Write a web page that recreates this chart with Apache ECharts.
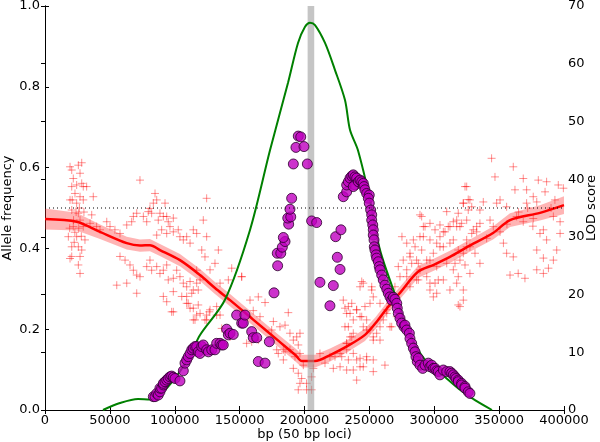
<!DOCTYPE html>
<html><head><meta charset="utf-8">
<script src="https://cdn.jsdelivr.net/npm/echarts@6/dist/echarts.min.js"></script>
<style>html,body{margin:0;padding:0;background:#fff}#c{width:600px;height:442px}</style>
</head><body><div id="c"></div>
<script>
// ---- data ----
const xTicks = [0, 50000, 100000, 150000, 200000, 250000, 300000, 350000, 400000];
const leftTicks = [0.0, 0.2, 0.4, 0.6, 0.8, 1.0];
const rightTicks = [0, 10, 20, 30, 40, 50, 60, 70];

// red + : SNP allele frequency
const snpPoints = [
[19300,0.602],[20600,0.594],[25700,0.606],[28300,0.612],[27000,0.586],[21800,0.573],[28300,0.561],[24400,0.557],[29500,0.553],[20600,0.553],[23100,0.536],[27000,0.528],[19300,0.520],[24400,0.512],[29500,0.520],[32100,0.553],[37200,0.528],[20600,0.495],[25700,0.487],[27000,0.470],[21800,0.454],[29500,0.454],[18000,0.429],[24400,0.429],[30800,0.421],[20600,0.404],[25700,0.404],[28300,0.396],[20600,0.380],[27000,0.380],[19300,0.375],[25700,0.359],[27000,0.338],
[22000,0.47],[23000,0.44],[26000,0.45],[28000,0.43],[21000,0.52],[24000,0.49],[19000,0.45],[30000,0.49],[22500,0.415],[26500,0.50],
[34700,0.462],[36000,0.483],[39800,0.454],[42400,0.446],[47600,0.466],[50100,0.454],[53900,0.446],[57800,0.437],[63000,0.458],[66800,0.466],[68100,0.479],[70700,0.487],[73200,0.569],[75800,0.479],[78400,0.466],[79600,0.491],[80900,0.499],[82200,0.487],[83500,0.512],[84800,0.536],[86100,0.520],[87300,0.470],[88600,0.487],[91200,0.479],[92500,0.512],[93800,0.479],[95000,0.466],[98900,0.475],[96300,0.454],[86100,0.433],[89900,0.446],[93800,0.437],[98900,0.441],[102700,0.446],[104000,0.429],[106600,0.421],[109200,0.429],[111800,0.413],[114300,0.446],[116900,0.437],[57800,0.380],[61700,0.371],[65500,0.359],[68100,0.346],[70700,0.334],[73200,0.330],[78400,0.355],[80900,0.371],[82200,0.346],[86100,0.355],[88600,0.338],[91200,0.346],[93800,0.359],[95000,0.322],[98900,0.326],[101500,0.346],[104000,0.330],[106600,0.314],[109200,0.305],[111800,0.318],[114300,0.297],[116900,0.314],[55300,0.309],[63000,0.314],[70700,0.289],[91200,0.281],[98900,0.293],[105400,0.281],[109200,0.281],[113100,0.289],[118100,0.297],[119500,0.322],[116900,0.346],
[98900,0.243],[109200,0.264],[111800,0.252],[114300,0.223],[116900,0.235],[93800,0.268],
[97600,0.243],[110400,0.264],[114300,0.252],[118100,0.260],[119500,0.239],[115600,0.223],[124600,0.235],[127200,0.248],[132300,0.256],[134900,0.235],[124600,0.223],[142600,0.181],[159300,0.169],
[244100,0.318],[251800,0.305],[124600,0.524],[122000,0.470],[124600,0.429],[133600,0.396],[120800,0.396],[131000,0.363],[123300,0.379],[127200,0.347],[143900,0.351],[151600,0.330],[141300,0.322],[134900,0.314],[164400,0.280],
[126600,0.243],[132300,0.235],[123300,0.223],[136200,0.202],[155400,0.165],[164400,0.173],[178600,0.149],[185000,0.144],[231200,0.252],[235100,0.239],[237600,0.223],[240200,0.248],[242800,0.231],[245300,0.206],[247900,0.223],[250500,0.198],[253000,0.181],[255600,0.190],[258200,0.206],[236400,0.181],[232500,0.165],[237600,0.140],[242800,0.128],[247900,0.124],[253000,0.124],[222200,0.103],[227400,0.107],[232500,0.099],[242800,0.107],[262000,0.111],[253000,0.095],[263400,0.248],[271100,0.231],[267200,0.206],
[151600,0.330],[158000,0.272],[169600,0.266],[160500,0.246],[165700,0.231],[187500,0.241],[176000,0.219],[181100,0.206],[185000,0.210],[174700,0.198],[188800,0.190],[194000,0.181],[196500,0.190],[191400,0.173],[195200,0.161],[188800,0.149],[183700,0.149],[179800,0.140],[192700,0.132],[183700,0.124],[196500,0.140],[191400,0.103],[195200,0.091],[199100,0.111],[197800,0.078],[201600,0.066],[196500,0.066],[195200,0.050],[201600,0.050],[205500,0.050],[205500,0.082],[206800,0.103],[211900,0.140],[215800,0.116],[219600,0.132],[223500,0.132],[227400,0.140],[232500,0.149],[233800,0.206],[235100,0.181],[233800,0.256],
[229900,0.272],[232500,0.239],[236400,0.264],[240200,0.248],[244100,0.231],[246600,0.256],[250500,0.264],[253000,0.280],[242800,0.305],[245300,0.314],[251800,0.297],[231200,0.206],[237600,0.190],[247900,0.198],[253000,0.173],[258200,0.173],[228700,0.132],[233800,0.124],[240200,0.124],[245300,0.107],[237600,0.099],[240200,0.074],[247900,0.132],[232500,0.165],[260700,0.223],[263400,0.239],[265900,0.264],[258200,0.264],[265900,0.206],[269700,0.305],[273600,0.330],[272300,0.355],[276100,0.371],[278800,0.347],[281300,0.388],[282600,0.363],[285200,0.404],[286400,0.371],[289000,0.347],[290300,0.396],[291600,0.429],[292900,0.454],[290300,0.479],[275100,0.429],[278800,0.413],[281300,0.305],[287700,0.322],[294200,0.330],[296700,0.297],[299300,0.280],[300600,0.314],[303100,0.322],[296700,0.371],[299300,0.388],[301900,0.413],[304400,0.429],[307000,0.404],[308300,0.441],[312100,0.454],[314700,0.421],[316000,0.363],[318500,0.330],[319800,0.371],[322400,0.388],[322400,0.272],[318500,0.260],[325000,0.421],[327500,0.404],[330100,0.446],[332700,0.454],[317300,0.470],[319800,0.454],[325000,0.470],[326200,0.495],[322400,0.512],[325000,0.553],[327500,0.520],[309600,0.491],[289000,0.483],
[344200,0.623],[346800,0.577],[360900,0.602],[368600,0.573],[371200,0.545],[323700,0.553],[326200,0.521],[337800,0.515],[350700,0.520],[362200,0.545],[380200,0.569],[386600,0.565],[395600,0.557],[399500,0.549],[385400,0.540],[376300,0.528],[379000,0.515],[371200,0.512],[355800,0.503],[348100,0.512],[335200,0.495],[328900,0.503],[322400,0.512],[318500,0.487],[291600,0.454],[296700,0.462],[300600,0.446],[304400,0.458],[307000,0.441],[310800,0.454],[314700,0.466],[317300,0.454],[321100,0.462],[328900,0.437],[332700,0.441],[283900,0.421],[289000,0.429],[296700,0.421],[304400,0.404],[312100,0.413],[318500,0.396],[325000,0.404],[331400,0.388],[335200,0.363],[281300,0.379],[287700,0.363],[294200,0.371],[301900,0.355],[309600,0.363],[314700,0.347],[323700,0.359],[327500,0.338],[278800,0.330],[286400,0.322],[296700,0.314],[307000,0.322],[317300,0.314],[301900,0.289],[312100,0.297],[322400,0.297],[353300,0.413],[355800,0.388],[360900,0.379],[364700,0.338],[369900,0.326],[358400,0.334],[379000,0.396],[381500,0.437],[384100,0.446],[386600,0.421],[384100,0.376],[379000,0.347],[384100,0.338],[388000,0.351],[391800,0.371],[394400,0.396],[397000,0.437],[391800,0.479],[397000,0.466],[376300,0.474],[368600,0.466],[363500,0.479],[345500,0.454],[340400,0.425],[350700,0.441],[335200,0.462],[319800,0.256],
[365000,0.49],[372000,0.50],[390000,0.50],[356000,0.46],[343000,0.47],[376000,0.455],[393000,0.52]
];

// red smoothed trend and its band (left axis)
const trendX = [0,24400,42400,63000,73200,80900,88600,104000,119500,131000,142600,160000,180000,193000,198100,208100,219700,233000,246600,255000,263600,273600,287500,300000,312100,325200,345300,358400,381500,400000];
const trendY = [0.473,0.466,0.441,0.413,0.407,0.408,0.396,0.371,0.334,0.302,0.272,0.225,0.171,0.136,0.121,0.121,0.136,0.158,0.186,0.216,0.252,0.290,0.342,0.360,0.379,0.403,0.438,0.470,0.488,0.507];
const bandHalf = [0.026,0.022,0.018,0.016,0.015,0.015,0.015,0.015,0.015,0.015,0.015,0.015,0.015,0.016,0.016,0.016,0.016,0.015,0.015,0.015,0.015,0.015,0.015,0.015,0.015,0.015,0.016,0.017,0.019,0.022];

// green LOD score (right axis)
const lodX = [44700,57800,71700,80900,88600,100200,111800,119500,138700,158000,173400,187300,195000,200400,204200,208100,215800,223500,231200,235100,241200,250500,258200,271300,281300,292900,308300,319800,331400,344500];
const lodY = [0,1.2,1.9,1.8,2.6,5.5,9.5,13,19.1,31.2,45,56.7,63.6,66.4,67.1,66.7,63.6,58.9,53.7,48.5,45,36.4,27.7,19.1,13,8.7,5.7,3.5,1.7,0];

// purple circles (left axis)
const purpleX = [83500,84800,86100,87300,88600,88600,89900,91200,91200,92500,93800,95000,96300,97600,98900,100200,104000,106600,107900,109200,110400,111800,113100,114300,115600,116900,118100,119500,120800,122000,124600,125900,128500,131000,132300,134900,136200,137400,
140000,141300,142600,145100,147700,151600,152800,154100,159300,160500,163200,164400,169600,172900,176500,179300,179000,181700,182900,185000,183700,187800,187100,189400,188800,190100,191400,193400,195200,197100,199600,202200,
205500,209400,211900,222200,219600,224000,228100,225300,227400,
229900,232500,232500,233800,235100,236400,237600,238900,240200,238900,237600,241500,242800,244100,245300,245900,246600,247900,249900,249200,249900,251000,251800,251800,252600,253000,253000,253600,253800,254300,255100,255600,256900,257600,258200,259500,260700,262000,263400,264600,265900,267200,268400,269700,271100,271500,272300,273600,274900,276700,277400,278800,280800,281300,282600,283900,285200,285900,286900,287700,289000,291100,292900,295400,296700,298000,299300,300600,301900,303100,304400,307000,309600,312100,313400,314700,316000,316800,318500,318500,321100,321100,323700,323700,326200,327500];
const purpleY = [0.033,0.033,0.041,0.037,0.045,0.054,0.054,0.062,0.066,0.070,0.074,0.078,0.082,0.084,0.081,0.078,0.072,0.097,0.116,0.124,0.132,0.140,0.149,0.153,0.157,0.157,0.144,0.140,0.157,0.161,0.149,0.144,0.149,0.149,0.165,0.165,0.161,0.161,
0.200,0.186,0.190,0.187,0.235,0.215,0.215,0.235,0.194,0.179,0.179,0.120,0.116,0.169,0.290,0.357,0.388,0.388,0.403,0.417,0.427,0.460,0.475,0.478,0.497,0.524,0.609,0.650,0.678,0.676,0.652,0.609,
0.468,0.464,0.316,0.308,0.258,0.429,0.446,0.378,0.348,
0.528,0.540,0.557,0.565,0.574,0.579,0.582,0.577,0.574,0.557,0.553,0.565,0.569,0.565,0.561,0.553,0.545,0.536,0.532,0.524,0.512,0.495,0.483,0.470,0.458,0.446,0.433,0.421,0.404,0.396,0.384,0.376,0.367,0.355,0.347,0.334,0.322,0.309,0.299,0.289,0.280,0.272,0.279,0.274,0.264,0.252,0.239,0.227,0.215,0.206,0.210,0.198,0.190,0.177,0.165,0.153,0.144,0.132,0.120,0.128,0.111,0.103,0.111,0.116,0.107,0.111,0.103,0.103,0.097,0.095,0.087,0.099,0.095,0.095,0.091,0.087,0.082,0.078,0.074,0.070,0.066,0.062,0.058,0.054,0.045,0.041];

const thresholdY = 0.5;
const markerRegion = [202400, 207500];

// ---- chart ----
const FONT = 'DejaVu Sans';
const chart = echarts.init(document.getElementById('c'), null, {renderer: 'canvas'});
const axisLineStyle = {color: '#000', width: 1};
const pairs = (xs, ys) => xs.map((x, i) => [x, ys[i]]);

chart.setOption({
  animation: false,
  backgroundColor: '#fff',
  grid: {left: 45, right: 36, top: 6, bottom: 32, containLabel: false, outerBoundsMode: 'none'},
  xAxis: [{
    type: 'value', min: 0, max: 400000, interval: 50000, position: 'bottom',
    name: 'bp (50 bp loci)', nameLocation: 'middle', nameGap: 18, nameMoveOverlap: false,
    nameTextStyle: {fontFamily: FONT, fontSize: 13, color: '#000'},
    axisLine: {show: true, lineStyle: axisLineStyle},
    axisTick: {show: true, inside: true, length: 4, lineStyle: axisLineStyle},
    axisLabel: {fontFamily: FONT, fontSize: 13, color: '#000', margin: 4, formatter: v => String(v)},
    splitLine: {show: false}
  }, {
    type: 'value', min: 0, max: 400000, interval: 50000, position: 'top',
    axisLine: {show: true, lineStyle: axisLineStyle},
    axisTick: {show: true, inside: true, length: 4, lineStyle: axisLineStyle},
    axisLabel: {show: false}, splitLine: {show: false}
  }],
  yAxis: [{
    type: 'value', min: 0, max: 1, interval: 0.2, position: 'left',
    name: 'Allele frequency', nameLocation: 'middle', nameGap: 31, nameMoveOverlap: false,
    nameTextStyle: {fontFamily: FONT, fontSize: 13, color: '#000'},
    axisLine: {show: true, lineStyle: axisLineStyle},
    axisTick: {show: true, inside: true, length: 4, lineStyle: axisLineStyle},
    axisLabel: {fontFamily: FONT, fontSize: 13, color: '#000', margin: 5, formatter: v => v.toFixed(1)},
    splitLine: {show: false}
  }, {
    type: 'value', min: 0, max: 70, interval: 10, position: 'right',
    name: 'LOD score', nameLocation: 'middle', nameGap: 21, nameRotate: 90, nameMoveOverlap: false,
    nameTextStyle: {fontFamily: FONT, fontSize: 13, color: '#000'},
    axisLine: {show: true, lineStyle: axisLineStyle},
    axisTick: {show: true, inside: true, length: 4, lineStyle: axisLineStyle},
    axisLabel: {fontFamily: FONT, fontSize: 13, color: '#000', margin: 4},
    splitLine: {show: false}
  }],
  series: [
    {
      name: 'snps', type: 'scatter', xAxisIndex: 0, yAxisIndex: 0, z: 2,
      symbol: 'path://M5,0L5,10M0,5L10,5', symbolSize: 8,
      itemStyle: {color: 'rgba(0,0,0,0)', borderColor: 'rgba(255,0,0,0.55)', borderWidth: 1},
      data: snpPoints, silent: true
    },
    {
      name: 'band', type: 'custom', xAxisIndex: 0, yAxisIndex: 0, z: 3, silent: true,
      data: [[0, 0]],
      renderItem: (params, api) => {
        const up = trendX.map((x, i) => api.coord([x, trendY[i] + bandHalf[i]]));
        const lo = trendX.map((x, i) => api.coord([x, trendY[i] - bandHalf[i]])).reverse();
        return {type: 'polygon', shape: {points: up.concat(lo)}, style: {fill: 'rgba(255,40,40,0.35)', stroke: 'none'}};
      }
    },
    {
      name: 'trend', type: 'line', xAxisIndex: 0, yAxisIndex: 0, z: 4,
      data: pairs(trendX, trendY), smooth: 0.3, showSymbol: false,
      lineStyle: {color: '#ff0000', width: 2.5}
    },
    {
      name: 'marker', type: 'custom', xAxisIndex: 0, yAxisIndex: 0, z: 5, silent: true,
      data: [[0, 0]],
      renderItem: (params, api) => {
        const a = api.coord([markerRegion[0], 1]);
        const b = api.coord([markerRegion[1], 0]);
        return {type: 'rect', shape: {x: a[0], y: a[1], width: b[0] - a[0], height: b[1] - a[1]}, style: {fill: 'rgba(150,150,150,0.55)'}};
      }
    },
    {
      name: 'lod', type: 'line', xAxisIndex: 0, yAxisIndex: 1, z: 6,
      data: pairs(lodX, lodY), smooth: 0.3, showSymbol: false,
      lineStyle: {color: '#008000', width: 2}
    },
    {
      name: 'purple', type: 'scatter', xAxisIndex: 0, yAxisIndex: 0, z: 7,
      symbol: 'circle', symbolSize: 10,
      itemStyle: {color: '#bf00bf', borderColor: '#2a002a', borderWidth: 1},
      data: pairs(purpleX, purpleY)
    },
    {
      name: 'threshold', type: 'line', xAxisIndex: 0, yAxisIndex: 0, z: 8,
      data: [[0, thresholdY], [400000, thresholdY]], showSymbol: false,
      lineStyle: {color: '#000', width: 1, type: [1, 3]}
    }
  ]
});
</script>
</body></html>
